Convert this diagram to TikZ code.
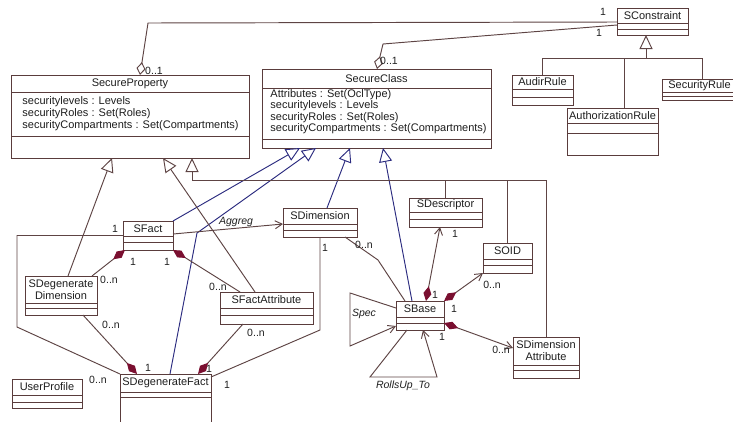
\documentclass[tikz,border=0pt]{standalone}
\usepackage{fontspec}
\setmainfont{Liberation Sans}
\usetikzlibrary{arrows.meta,calc,positioning}

\definecolor{umlbrown}{HTML}{5A3C3C}
\definecolor{umlline}{HTML}{5E4444}
\definecolor{umlnavy}{HTML}{2C2C80}
\definecolor{umlred}{HTML}{7A0F30}
\definecolor{umltext}{HTML}{1E1E1E}

\tikzset{
    cls/.style = {draw=umlbrown, fill=white, rectangle, anchor=north west, inner sep=0pt, outer sep=0pt},
    clsline/.style = {draw=umlbrown},
    clsname/.style = {font=\fontsize{11}{12}\selectfont, align=center, inner sep=0pt},
    attr/.style = {anchor=north west, align=left, inner sep=0pt},
    lbl/.style = {font=\fontsize{10.5}{12}\selectfont, inner sep=0pt},
    rlbl/.style = {font=\fontsize{10.5}{12}\selectfont\itshape, inner sep=0pt},
    assoc/.style = {draw=umlline},
    nav/.style = {draw=umlline, -{Straight Barb[length=7pt,width=8pt]}},
    gen/.style = {draw=umlline, -{Triangle[length=14pt,width=13pt,fill=white]}},
    gennavy/.style = {draw=umlnavy, -{Triangle[length=14pt,width=13pt,fill=white]}},
    aggr/.style = {draw=umlline, -{Diamond[length=13pt,width=9pt,fill=white]}},
    comp/.style = {draw=umlline, {Diamond[length=15pt,width=8pt,color=umlred]}-},
    compnav/.style = {draw=umlline, {Diamond[length=15pt,width=8pt,color=umlred]}-{Straight Barb[length=7pt,width=8pt]}}
}

% class box: name, north west corner, width, height, first and second separator, title
\newcommand{\umlclass}[7]{%
    \node[cls, minimum width=#3, minimum height=#4] (#1) at (#2) {};
    \draw[clsline] ([yshift=-#5]#1.north west) -- ([yshift=-#5]#1.north east);
    \draw[clsline] ([yshift=-#6]#1.north west) -- ([yshift=-#6]#1.north east);
    \path (#1.north) -- ([yshift=-#5]#1.north) node[midway, clsname] (#1-t) {#7};
}

\begin{document}
\begin{tikzpicture}[x=1pt, y=-1pt, line width=0.95pt, text=umltext]
    \useasboundingbox (0,0) rectangle (733,421);

    % classes
    \umlclass{sprop}{11,75}{238}{83}{17}{61}{SecureProperty}
    \umlclass{sclass}{262,69}{229}{79}{19}{70}{SecureClass}
    \umlclass{scons}{617,8}{71}{27}{15}{21}{SConstraint}
    \umlclass{audit}{512,75}{61}{30}{14}{22}{AudirRule}
    \umlclass{authr}{567,108}{91}{47}{15}{25}{AuthorizationRule}
    \umlclass{secrule}{662,79}{75}{21}{13}{17}{SecurityRule}
    \umlclass{sfact}{123,221}{50}{29}{15}{21}{SFact}
    \umlclass{sdim}{283,208}{74}{29}{16}{22}{SDimension}
    \umlclass{sdesc}{409,198}{73}{29}{14}{21}{SDescriptor}
    \umlclass{soid}{483,243}{49}{30}{16}{22}{SOID}
    \umlclass{sbase}{396,301}{48}{29}{16}{22}{SBase}
    \umlclass{sdattr}{513,337}{66}{41}{28}{33}{SDimension\\Attribute}
    \umlclass{sfattr}{220,292}{93}{32}{16}{23}{SFactAttribute}
    \umlclass{sddim}{25,276}{72}{39}{27}{32}{SDegenerate\\Dimension}
    \umlclass{sdfact}{120,374}{91}{50}{18}{23}{SDegenerateFact}
    \umlclass{uprof}{12,379}{70}{29}{16}{23}{UserProfile}

    \node[attr, font=\fontsize{11}{12}\selectfont] (sprop-a) at (22,96.5)
        {securitylevels : Levels\\securityRoles : Set(Roles)\\securityCompartments : Set(Compartments)};
    \node[attr, font=\fontsize{11}{11.5}\selectfont] (sclass-a) at (270,89)
        {Attributes : Set(OclType)\\securitylevels : Levels\\securityRoles : Set(Roles)\\securityCompartments : Set(Compartments)};

    % bends
    \coordinate (agA) at (148,23);
    \coordinate (agB) at (383,44);
    \coordinate (tj) at (192,180);
    \coordinate (cj) at (646,58);
    \coordinate (bendA) at (197,233);
    \coordinate (fk) at (17,327);
    \coordinate (dk) at (320,330);
    \coordinate (bk) at (378,260);
    \coordinate (sp1) at (350,293);
    \coordinate (sp2) at (350,346);
    \coordinate (ru1) at (370,377);
    \coordinate (ru2) at (437,377);

    % SConstraint
    \draw[aggr] ([yshift=-14]scons.north west) -- (agA) -- ([xshift=129]sprop.north west);
    \draw[aggr] ([yshift=-17]scons.north west) -- (agB) -- ([xshift=115]sclass.north west);
    \draw[gen] (cj) -- ([xshift=29]scons.south west);
    \draw[assoc] (audit.north) |- (cj);
    \draw[assoc] ([xshift=57]authr.north west) |- (cj);
    \draw[assoc] ([xshift=40]secrule.north west) |- (cj);

    % generalizations
    \draw[gennavy] (sfact.north east) -- ([xshift=38]sclass.south west);
    \draw[gennavy] ([xshift=50]sdfact.north west) -- (bendA) -- ([xshift=54]sclass.south west);
    \draw[gennavy] ([xshift=44]sdim.north west) -- ([xshift=88]sclass.south west);
    \draw[gennavy] ([xshift=16]sbase.north west) -- ([xshift=121]sclass.south west);
    \draw[gen] ([xshift=43]sddim.north west) -- ([xshift=101]sprop.south west);
    \draw[gen] ([xshift=35]sfattr.north west) -- ([xshift=152]sprop.south west);
    \draw[gen] (tj) -- ([xshift=181]sprop.south west);
    \draw[assoc] (sdesc.north) |- (tj);
    \draw[assoc] (soid.north) |- (tj);
    \draw[assoc] (sdattr.north) |- (tj);

    % compositions
    \draw[comp] ([xshift=2]sfact.south west) -- ([xshift=67]sddim.north west);
    \draw[comp] (sfact.south east) -- ([xshift=20]sfattr.north west);
    \draw[comp] ([xshift=17]sdfact.north west) -- ([xshift=58]sddim.south west);
    \draw[comp] ([xshift=78]sdfact.north west) -- ([xshift=23]sfattr.south west);
    \draw[compnav] ([xshift=30]sbase.north west) -- ([xshift=31]sdesc.south west);
    \draw[compnav] (sbase.north east) -- (soid.south west);
    \draw[compnav] ([yshift=-22]sbase.north east) -- ([yshift=-11]sdattr.north west);

    % associations
    \draw[assoc] (sfact.west) -| (fk) -- (sdfact.north west);
    \draw[assoc] ([xshift=37]sdim.south west) -- (dk) -- ([yshift=-3]sdfact.north east);
    \draw[assoc] ([xshift=62]sdim.south west) -- (bk) -- ([xshift=9]sbase.north west);
    \draw[nav] ([yshift=-13]sfact.north east) -- ([yshift=-16]sdim.north west);
    \draw[nav] ([yshift=-7]sbase.north west) -- (sp1) -- (sp2) -- ([yshift=-25]sbase.north west);
    \draw[nav] ([xshift=11]sbase.south west) -- (ru1) -- (ru2) -- ([xshift=27]sbase.south west);

    % labels
    \node[lbl] (m-c1) at (603,12) {1};
    \node[lbl] (m-c2) at (599,33) {1};
    \node[lbl] (m-p1) at (154,71) {0..1};
    \node[lbl] (m-s1) at (389,61) {0..1};
    \node[lbl] (m-f1) at (115,229) {1};
    \node[rlbl] (m-ag) at (236,222) {Aggreg};
    \node[lbl] (m-f2) at (133,262) {1};
    \node[lbl] (m-f3) at (167,262) {1};
    \node[lbl] (m-d1) at (109,280) {0..n};
    \node[lbl] (m-a1) at (218,287) {0..n};
    \node[lbl] (m-d2) at (111,325) {0..n};
    \node[lbl] (m-g1) at (148,368) {1};
    \node[lbl] (m-a2) at (256,333) {0..n};
    \node[lbl] (m-g2) at (209,369) {1};
    \node[lbl] (m-g3) at (98,380) {0..n};
    \node[lbl] (m-g4) at (227,385) {1};
    \node[lbl] (m-m1) at (325,248) {1};
    \node[lbl] (m-m2) at (364,245) {0..n};
    \node[lbl] (m-e1) at (455,234) {1};
    \node[lbl] (m-b1) at (435,295) {1};
    \node[lbl] (m-o1) at (492,285) {0..n};
    \node[lbl] (m-b2) at (454,309) {1};
    \node[lbl] (m-b3) at (442,337) {1};
    \node[lbl] (m-t1) at (501,350) {0..n};
    \node[rlbl] (m-sp) at (364,314) {Spec};
    \node[rlbl] (m-ru) at (403,386) {RollsUp\_To};
\end{tikzpicture}
\end{document}
